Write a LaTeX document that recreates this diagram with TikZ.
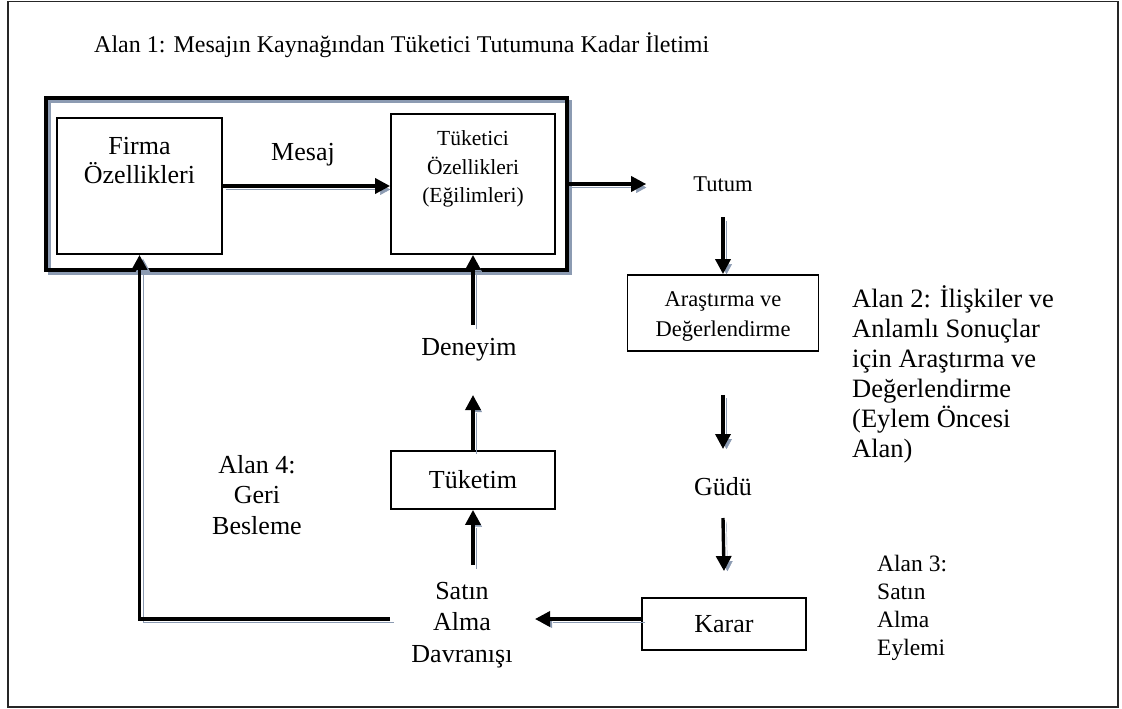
\documentclass[tikz,border=0pt]{standalone}
\usepackage{fontspec}
\setmainfont{Liberation Serif}
\usetikzlibrary{arrows.meta}
\definecolor{shadowc}{RGB}{140,155,178}
\newcommand{\fs}[2]{\fontsize{#1}{#2}\selectfont}
\begin{document}
\begin{tikzpicture}[x=1pt,y=-1pt,
  shad/.style={preaction={draw=shadowc, transform canvas={shift={(3.5pt,-3.5pt)}}}},
  arr/.style={line width=3.4pt, -{Triangle[length=15pt,width=15pt]}, shad},
  fb/.style={line width=3.8pt, -{Triangle[length=15pt,width=15pt]}, shad},
  box/.style={draw, line width=1.8pt, inner sep=0pt, align=center},
  txt/.style={inner sep=0pt, align=center},
  ltxt/.style={inner sep=0pt, align=left, anchor=west}]
\useasboundingbox (0,0) rectangle (1122,709);
% outer frame
\draw[line width=1.5pt, black!85] (8,1.5) rectangle (1118,707);

% area 1 container and its boxes
\node[box, line width=3.4pt, shad, minimum width=521pt, minimum height=172pt] (cont) at (306.5,184) {};
\node[box, minimum width=165pt, minimum height=136pt] (firmaB) at (139.5,186) {};
\node[box, minimum width=164pt, minimum height=140pt] (tuketiciB) at (473,184) {};
\node[txt, font=\fs{26}{29}] (firmaT) at (139.5,161) {Firma\\Özellikleri};
\node[txt, font=\fs{21.5}{28.5}] (tuketiciT) at (473,169) {Tüketici\\Özellikleri\\(Eğilimleri)};
\node[txt, font=\fs{26}{30}] (mesaj) at (303,155) {Mesaj};

% right column
\node[txt, font=\fs{22.5}{27}] (tutum) at (723,184) {Tutum};
\node[box, minimum width=191pt, minimum height=76pt] (arastB) at (723,313) {};
\node[txt, font=\fs{22.5}{30}] (arastT) at (723,316) {Araştırma ve\\Değerlendirme};
\node[txt, font=\fs{26}{30}] (gudu) at (723,487) {Güdü};
\node[box, font=\fs{26}{30}, minimum width=164pt, minimum height=52pt] (kararB) at (724,624) {Karar};
\coordinate (kl) at ([yshift=5pt]kararB.west);

% middle column
\node[txt, font=\fs{26}{31.5}] (deneyim) at (469,350) {Deneyim};
\node[box, font=\fs{26}{30}, minimum width=164pt, minimum height=58pt] (tuketimB) at (473,480) {Tüketim};
\node[txt, font=\fs{26}{31.5}] (satin) at (462,625) {Satın\\Alma\\Davranışı};

% area labels
\node[ltxt, font=\fs{24}{28}] (title) at (94,45) {Alan 1: Mesajın Kaynağından Tüketici Tutumuna Kadar İletimi};
\node[ltxt, font=\fs{26.5}{30}] (alan2) at (852,374) {Alan 2: İlişkiler ve\\Anlamlı Sonuçlar\\için Araştırma ve\\Değerlendirme\\(Eylem Öncesi\\Alan)};
\node[ltxt, font=\fs{23.5}{27.8}] (alan3) at (877,608) {Alan 3:\\Satın\\Alma\\Eylemi};
\node[txt, font=\fs{26}{30.5}] (alan4) at (257,495) {Alan 4:\\Geri\\Besleme};

% connectors
\draw[arr] (firmaB.east) -- (firmaB.east -| tuketiciB.west);
\draw[arr] (cont.east) -- ([xshift=-47pt]tutum.west |- cont.east);
\draw[arr] ([yshift=-33pt]tutum.center) -- (arastB.north);
\draw[arr] ([yshift=-43pt]arastB.south) -- ([yshift=38pt]gudu.center);
\draw[arr] ([yshift=-31pt]gudu.center) -- ([yshift=26pt]kararB.north);
\draw[arr] (kl) -- ([xshift=73pt]satin.center |- kl);
\draw[arr] ([yshift=60pt]satin.center -| tuketimB.south) -- (tuketimB.south);
\draw[arr] (tuketimB.north) -- ([yshift=-45pt]deneyim.center -| tuketimB.north);
\draw[arr] ([yshift=25pt]deneyim.center -| tuketiciB.south) -- (tuketiciB.south);
\draw[fb] ([xshift=-72pt]satin.center |- kl) -| (firmaB.south);
\end{tikzpicture}
\end{document}
